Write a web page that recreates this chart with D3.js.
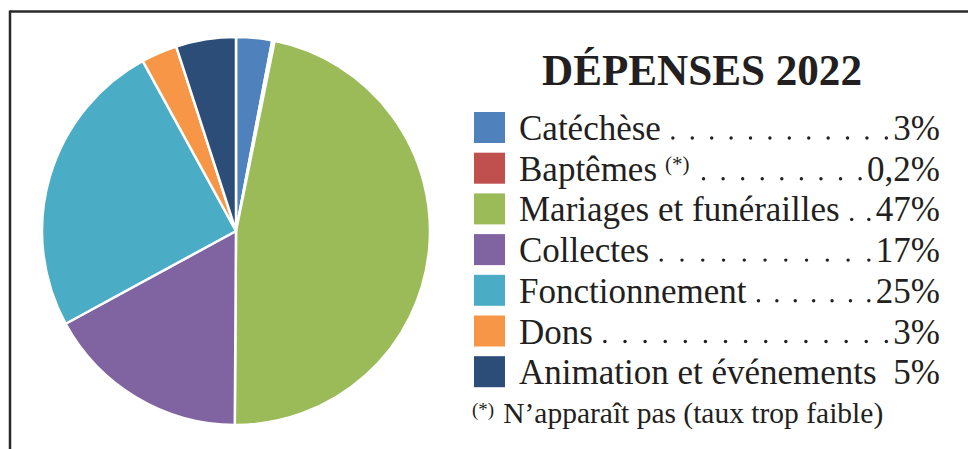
<!DOCTYPE html>
<html>
<head>
<meta charset="utf-8">
<script src="https://cdn.jsdelivr.net/npm/d3@7"></script>
<style>
  html, body { margin: 0; padding: 0; background: #fff; }
  svg { display: block; }
</style>
</head>
<body>
<svg id="chart" width="968" height="449"></svg>
<script>
// --- data ---
const categories = ["Catéchèse", "Baptêmes", "Mariages et funérailles", "Collectes",
                    "Fonctionnement", "Dons", "Animation et événements"];
const values     = [3, 0.2, 47, 17, 25, 3, 5];
const pctLabels  = ["3%", "0,2%", "47%", "17%", "25%", "3%", "5%"];
const colors     = ["#4f81bd", "#c0504d", "#9bbb59", "#8064a2", "#4bacc6", "#f79646", "#2b4d78"];
const noteMarks  = [null, "(*)", null, null, null, null, null];
const title      = "DÉPENSES 2022";
const footnote   = "N’apparaît pas (taux trop faible)";

const svg = d3.select("#chart");
const ink = "#231f20";
const serif = "'Liberation Serif', 'DejaVu Serif', serif";

// frame (top + left rules)
svg.append("line").attr("x1", 10).attr("x2", 968).attr("y1", 11.5).attr("y2", 11.5)
    .attr("stroke", "#2a2a2a").attr("stroke-width", 2.5);
svg.append("line").attr("x1", 10).attr("x2", 10).attr("y1", 10.5).attr("y2", 449)
    .attr("stroke", "#2a2a2a").attr("stroke-width", 2.5);

// --- pie ---
const rows = categories.map((c, i) => ({ name: c, value: values[i], pct: pctLabels[i], color: colors[i], note: noteMarks[i] }));

const pie = d3.pie().sort(null).value(d => d.value);
const arc = d3.arc().innerRadius(0).outerRadius(194);

svg.append("g")
    .attr("transform", "translate(236,231)")
    .selectAll("path")
    .data(pie(rows))
    .join("path")
    .attr("d", arc)
    .attr("fill", d => d.data.color)
    .attr("stroke", "#fff")
    .attr("stroke-width", 2.5)
    .attr("stroke-linejoin", "round");

// --- title ---
svg.append("text")
    .attr("x", 702).attr("y", 85)
    .attr("text-anchor", "middle")
    .attr("textLength", 320).attr("lengthAdjust", "spacingAndGlyphs")
    .style("font-family", serif)
    .style("font-weight", "bold")
    .style("font-size", "45px")
    .style("fill", ink)
    .text(title);

// --- legend ---
const legX = 474, textX = 519, rightX = 940, rowTop = 112, rowStep = 40.7, sw = 31;
const y = d3.scaleLinear().domain([0, 1]).range([rowTop, rowTop + rowStep]);

const item = svg.append("g").selectAll("g.item")
    .data(rows)
    .join("g")
    .attr("class", "item")
    .attr("transform", (d, i) => `translate(0,${y(i)})`);

item.append("rect")
    .attr("x", legX).attr("y", 0)
    .attr("width", sw).attr("height", sw)
    .attr("fill", d => d.color);

const lbl = item.append("text")
    .attr("x", textX).attr("y", 28)
    .style("font-family", serif)
    .style("font-size", "35px")
    .style("fill", ink)
    .text(d => d.name);

lbl.filter(d => d.note)
    .append("tspan")
    .attr("dx", 8).attr("dy", -10)
    .style("font-size", "21px")
    .text(d => d.note);

const pct = item.append("text")
    .attr("x", rightX).attr("y", 28)
    .attr("text-anchor", "end")
    .style("font-family", serif)
    .style("font-size", "35px")
    .style("fill", ink)
    .text(d => d.pct);

// dot leaders between label and percentage, spread evenly
item.each(function (d, i) {
    const labelEnd = textX + lbl.nodes()[i].getComputedTextLength() + (d.note ? 22 : 12);
    const pctStart = rightX - pct.nodes()[i].getComputedTextLength() - 7;
    const span = pctStart - labelEnd;
    const xs = [];
    if (span > 15) {
        const n = Math.round(span / 20) + 1;
        for (let k = 0; k < n; k++) xs.push(labelEnd + span * k / (n - 1));
    }
    d3.select(this).selectAll("circle")
        .data(xs)
        .join("circle")
        .attr("cx", x => x).attr("cy", 26)
        .attr("r", 1.7)
        .attr("fill", ink);
});

// --- footnote ---
const fn = svg.append("text")
    .attr("x", 472).attr("y", 423)
    .style("font-family", serif)
    .style("font-size", "29.5px")
    .style("fill", ink);
fn.append("tspan").attr("dy", -7).style("font-size", "19px").text("(*)");
fn.append("tspan").attr("dx", 9).attr("dy", 7).text(footnote);
</script>
</body>
</html>
